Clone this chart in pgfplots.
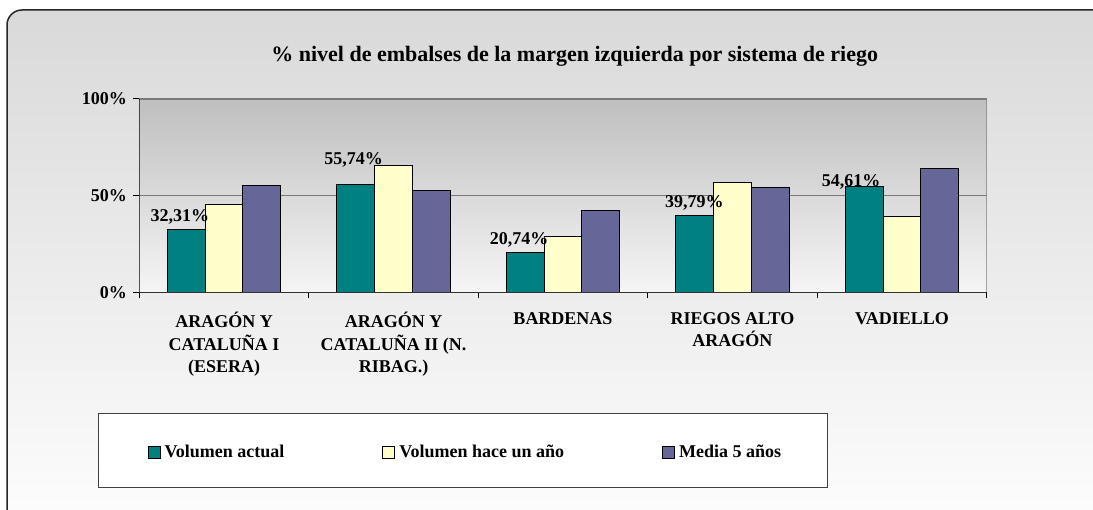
\documentclass[border=0pt]{standalone}
\usepackage{pgfplots}
\usepackage{pgfplotstable}
\pgfplotsset{compat=1.18}
\usepackage{fontspec}
\setmainfont{Liberation Serif}
\definecolor{cA}{HTML}{008080}
\definecolor{cB}{HTML}{FFFFCC}
\definecolor{cC}{HTML}{666699}
\definecolor{bgtop}{HTML}{D9D9D9}
\definecolor{bgbot}{HTML}{FDFDFD}
\definecolor{patop}{HTML}{BFBFBF}
\definecolor{pabot}{HTML}{F5F5F5}
\definecolor{gridc}{HTML}{7A7A7A}
\newcommand{\lf}{\fontsize{18bp}{22.5bp}\selectfont\bfseries}
\pgfplotstableread{
x y dx dy label
0 32.31 -6.3 8.6 32,31\%
1 55.74 -2.2 20 55,74\%
2 20.74 -6.2 7.3 20,74\%
3 39.79 -0.4 8 39,79\%
4 54.61 -13 0.6 54,61\%
}\actual
\pgfplotstableread{
x y
0 45.4
1 65.8
2 28.9
3 56.7
4 39.0
}\hace
\pgfplotstableread{
x y
0 55.4
1 52.6
2 42.5
3 54.0
4 63.8
}\media
\begin{document}
\begin{tikzpicture}
\useasboundingbox (0,0) rectangle (1093bp,510bp);
\begin{scope}
\clip (0,0) rectangle (1093bp,510bp);
\fill[white] (0,0) rectangle (1093bp,510bp);
\shade[top color=bgtop, bottom color=bgbot, rounded corners=15bp] (7bp,-10bp) rectangle (1140bp,500bp);
\draw[black!85, line width=1.5bp, rounded corners=15bp] (7bp,-10bp) -- (7bp,500bp) -- (1140bp,500bp);
\end{scope}
\draw[fill=white, draw=black!75, line width=1.5bp] (98.7bp,22.3bp) rectangle (827.3bp,96.7bp);
\node[anchor=base, font=\fontsize{22bp}{26bp}\selectfont\bfseries] at (574.7bp,448.3bp) {\% nivel de embalses de la margen izquierda por sistema de riego};
\begin{axis}[
  at={(139.3bp,217.7bp)}, anchor=south west, scale only axis,
  width=847.4bp, height=193.3bp,
  xmin=-0.5, xmax=4.5, ymin=0, ymax=100, enlargelimits=false,
  ybar=0pt, bar width=37.8bp,
  axis background/.style={top color=patop, bottom color=pabot},
  axis line style={draw=none},
  ytick={0,50,100}, yticklabels={0\%,50\%,100\%},
  ytick pos=left, ytick align=outside, major tick length=6bp,
  ymajorgrids, major grid style={gridc, line width=1.5bp},
  xtick={-0.5,0.5,1.5,2.5,3.5,4.5}, xticklabels={,,,,,}, xtick pos=bottom, xtick align=outside,
  extra x ticks={0,1,2,3,4},
  extra x tick labels={{ARAGÓN Y\\CATALUÑA I\\(ESERA)},{ARAGÓN Y\\CATALUÑA II (N.\\RIBAG.)},{BARDENAS},{RIEGOS ALTO\\ARAGÓN},{VADIELLO}},
  extra x tick style={major tick length=0pt},
  tick style={black, line width=1bp},
  tick label style={font=\lf},
  y tick label style={xshift=-3bp},
  x tick label style={align=center, anchor=north, inner sep=0pt, yshift=-20bp},
  legend style={at={(0.00944,-0.8262)}, anchor=west, draw=none, fill=none, inner sep=0pt,
    font=\lf, nodes={inner xsep=4bp, inner ysep=0pt},
    /tikz/every even column/.append style={column sep=94bp}},
  legend columns=3, legend cell align=left,
]
\addplot[fill=cA, draw=black, line width=1bp,
  legend image code/.code={\draw[fill=cA, draw=black, line width=1bp] (0bp,-6bp) rectangle (12bp,6bp);},
  nodes near coords, point meta=explicit symbolic,
  visualization depends on={\thisrow{dx} \as \dx},
  visualization depends on={\thisrow{dy} \as \dy},
  every node near coord/.append style={font=\lf, anchor=base, inner sep=0pt, xshift=\dx bp, yshift=\dy bp, black}
  ] table[x=x, y=y, meta=label] {\actual};
\addlegendentry{Volumen actual}
\addplot[fill=cB, draw=black, line width=1bp,
  legend image code/.code={\draw[fill=cB, draw=black, line width=1bp] (0bp,-6bp) rectangle (12bp,6bp);}
  ] table[x=x, y=y] {\hace};
\addlegendentry{Volumen hace un año}
\addplot[fill=cC, draw=black, line width=1bp,
  legend image code/.code={\draw[fill=cC, draw=black, line width=1bp] (0bp,-6bp) rectangle (12bp,6bp);}
  ] table[x=x, y=y] {\media};
\addlegendentry{Media 5 años}
\draw[gridc, line width=1.5bp] (rel axis cs:1,0) -- (rel axis cs:1,1);
\draw[black, line width=1.5bp] (rel axis cs:0,0) -- (rel axis cs:0,1);
\draw[black!80, line width=1.5bp] (rel axis cs:0,0) -- (rel axis cs:1,0);
\end{axis}
\end{tikzpicture}
\end{document}
